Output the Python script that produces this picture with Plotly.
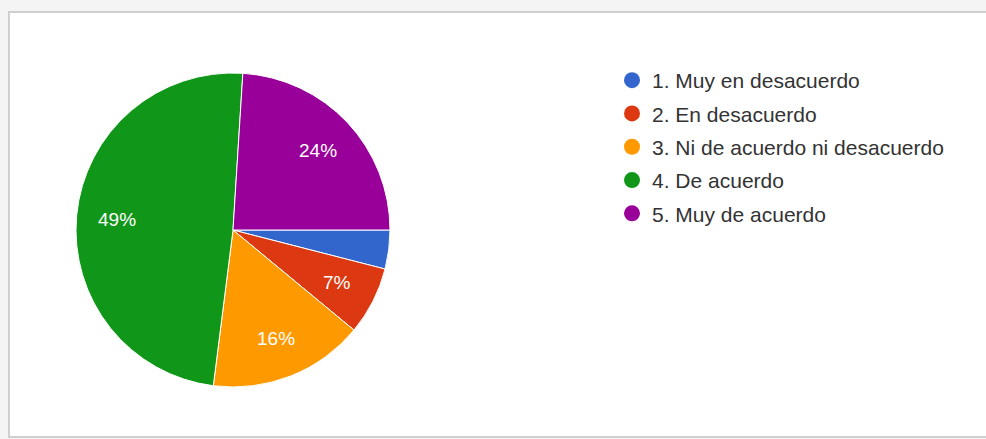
import math
import plotly.graph_objects as go

categories = ["1. Muy en desacuerdo", "2. En desacuerdo", "3. Ni de acuerdo ni desacuerdo",
              "4. De acuerdo", "5. Muy de acuerdo"]
values = [4, 7, 16, 49, 24]
colors = ["#3366cc", "#dc3912", "#ff9900", "#109618", "#990099"]

W, H = 986, 439
FONT = "Arial, Liberation Sans, sans-serif"

# pie geometry (pixels)
PIE_L, PIE_R, PIE_T, PIE_B = 76, 390, 73, 387
START = 90  # degrees clockwise from 12 o'clock
LABEL_FRAC = 0.74

fig = go.Figure()
fig.add_trace(go.Pie(
    labels=categories, values=values, sort=False, direction="clockwise", rotation=START,
    marker=dict(colors=colors, line=dict(color="white", width=1)),
    textinfo="none", showlegend=False, hoverinfo="label+percent",
    domain=dict(x=[PIE_L / W, PIE_R / W], y=[(H - PIE_B) / H, (H - PIE_T) / H]),
))

# percentage labels placed along each slice's mid-angle (Google Charts style)
cx, cy = (PIE_L + PIE_R) / 2, (PIE_T + PIE_B) / 2
rad = min(PIE_R - PIE_L, PIE_B - PIE_T) / 2
total = sum(values)
cum = 0.0
annotations = []
for v in values:
    frac = v / total
    mid = math.radians(START + 360 * (cum + frac / 2))
    cum += frac
    if frac * 100 < 5:
        continue
    px = cx + LABEL_FRAC * rad * math.sin(mid)
    py = cy - LABEL_FRAC * rad * math.cos(mid)
    annotations.append(dict(x=px / W, y=(H - py) / H, xref="paper", yref="paper",
                            xanchor="center", yanchor="middle",
                            text=f"{round(frac * 100)}%", showarrow=False,
                            font=dict(color="white", size=19, family=FONT)))

for i, (name, c) in enumerate(zip(categories, colors)):
    fig.add_trace(go.Scatter(x=[None], y=[None], mode="markers", name=name,
                             legendgroup=f"g{i}",
                             marker=dict(color=c, size=20, symbol="circle")))

fig.update_layout(
    width=W, height=H,
    margin=dict(l=0, r=0, t=0, b=0),
    paper_bgcolor="#f4f4f4", plot_bgcolor="rgba(0,0,0,0)",
    xaxis=dict(visible=False), yaxis=dict(visible=False),
    legend=dict(x=612 / W, y=1 - 60 / H, xanchor="left", yanchor="top",
                font=dict(size=21, color="#333333", family=FONT),
                bgcolor="rgba(0,0,0,0)", itemsizing="trace", tracegroupgap=3),
    annotations=annotations,
    shapes=[dict(type="rect", xref="paper", yref="paper", x0=9 / W, x1=1.01,
                 y0=(H - 437) / H, y1=(H - 12) / H,
                 fillcolor="white", line=dict(color="#cfcfcf", width=2), layer="below")],
)

fig.write_html("out.html")
